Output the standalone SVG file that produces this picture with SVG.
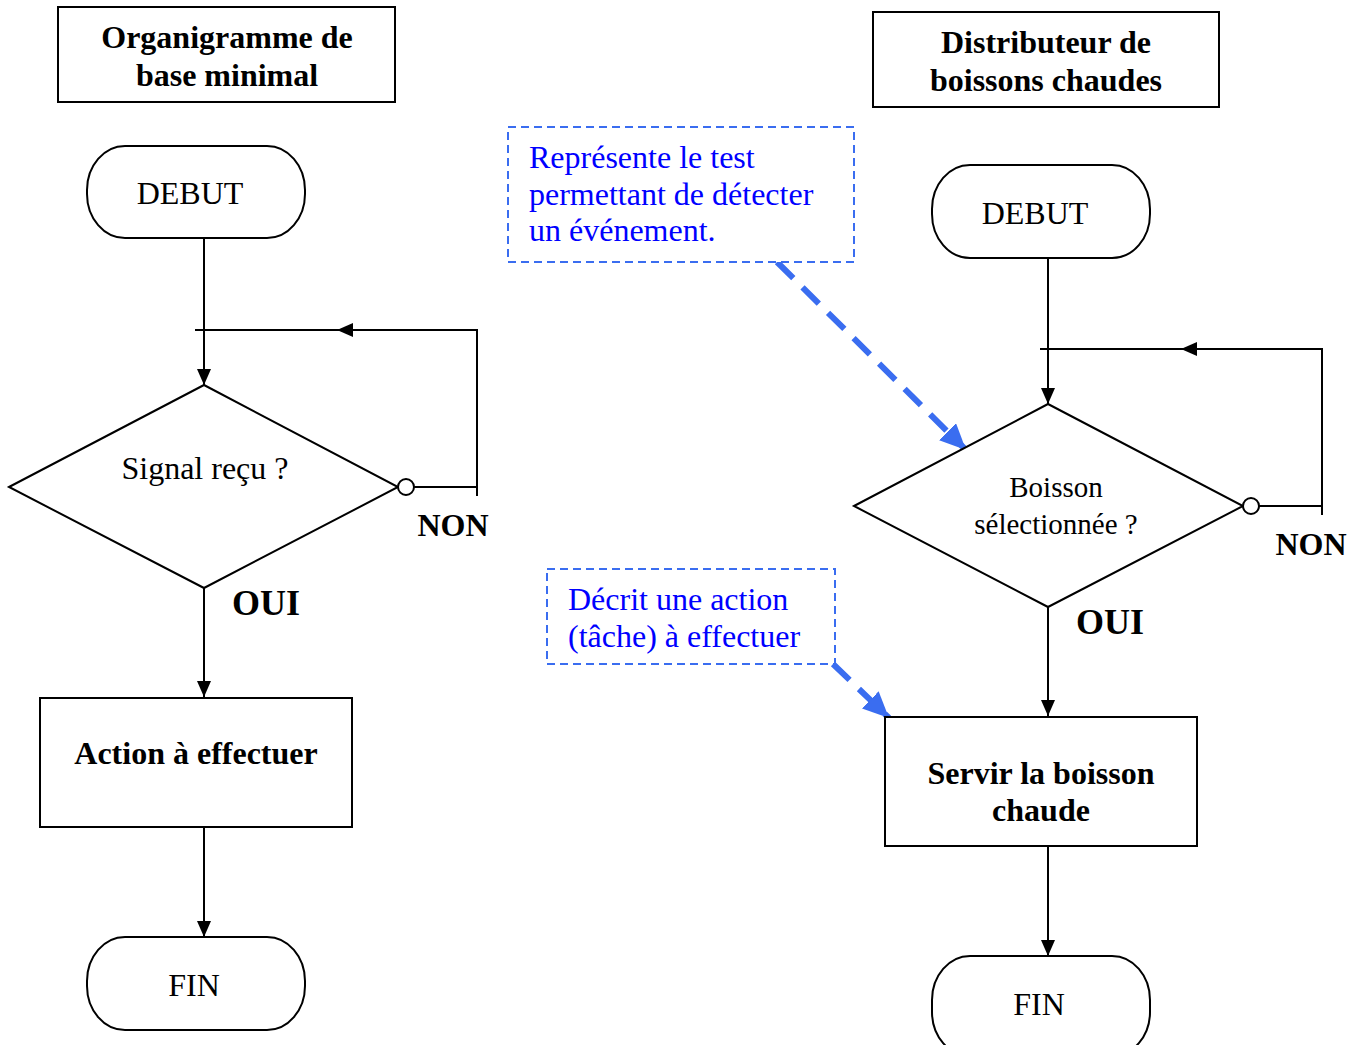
<svg xmlns="http://www.w3.org/2000/svg" width="1361" height="1045" viewBox="0 0 1361 1045">
<style>
.ln{fill:none;stroke:#000;stroke-width:2}
.sh{fill:#fff;stroke:#000;stroke-width:2}
.t{font-family:"Liberation Serif","Times New Roman",serif;font-size:32px;fill:#000;text-anchor:middle}
.b{font-weight:bold}
.bl{font-family:"Liberation Serif","Times New Roman",serif;font-size:32px;fill:#0000ff}
.db{fill:#fff;stroke:#3a6df0;stroke-width:2;stroke-dasharray:8 5}
.da{fill:none;stroke:#3a6df0;stroke-width:6;stroke-dasharray:23 13}
</style>
<defs>
<marker id="ah" markerWidth="16" markerHeight="14" refX="16" refY="7" orient="auto" markerUnits="userSpaceOnUse">
<path d="M0,0 L16,7 L0,14 Z" fill="#000"/>
</marker>
<marker id="bh" markerWidth="26" markerHeight="24" refX="26" refY="12" orient="auto" markerUnits="userSpaceOnUse">
<path d="M0,0 L26,12 L0,24 Z" fill="#3a6df0"/>
</marker>
</defs>

<g id="connectors">
<line class="ln" x1="204" y1="238" x2="204" y2="385" marker-end="url(#ah)"/>
<line class="ln" x1="195" y1="330" x2="477" y2="330"/>
<path d="M337,330 L353,323 L353,337 Z" fill="#000"/>
<line class="ln" x1="477" y1="329" x2="477" y2="496"/>
<line class="ln" x1="414" y1="487" x2="477" y2="487"/>
<line class="ln" x1="204" y1="588" x2="204" y2="697" marker-end="url(#ah)"/>
<line class="ln" x1="204" y1="827" x2="204" y2="937" marker-end="url(#ah)"/>

<line class="ln" x1="1048" y1="258" x2="1048" y2="404" marker-end="url(#ah)"/>
<line class="ln" x1="1040" y1="349" x2="1322" y2="349"/>
<path d="M1181,349 L1197,342 L1197,356 Z" fill="#000"/>
<line class="ln" x1="1322" y1="348" x2="1322" y2="515"/>
<line class="ln" x1="1259" y1="506" x2="1322" y2="506"/>
<line class="ln" x1="1048" y1="607" x2="1048" y2="716" marker-end="url(#ah)"/>
<line class="ln" x1="1048" y1="846" x2="1048" y2="956" marker-end="url(#ah)"/>

<line class="da" x1="777" y1="262" x2="966" y2="450" marker-end="url(#bh)"/>
<line class="da" x1="833" y1="664" x2="889" y2="718" marker-end="url(#bh)"/>
</g>

<g id="title-left">
<rect class="sh" x="58" y="7" width="337" height="95"/>
<text class="t b" x="227" y="48">Organigramme de</text>
<text class="t b" x="227" y="86">base minimal</text>
</g>

<g id="debut-left">
<rect class="sh" x="87" y="146" width="218" height="92" rx="38" ry="44"/>
<text class="t" x="190" y="204">DEBUT</text>
</g>

<g id="decision-left">
<polygon class="sh" points="9,487 204,385 398,487 204,588"/>
<text class="t" x="205" y="479">Signal reçu ?</text>
<circle class="sh" cx="406" cy="487" r="8"/>
</g>

<g id="label-non-left"><text class="t b" x="453" y="536">NON</text></g>
<g id="label-oui-left"><text class="t b" x="266" y="615" style="font-size:36px">OUI</text></g>

<g id="action-left">
<rect class="sh" x="40" y="698" width="312" height="129"/>
<text class="t b" x="196" y="764">Action à effectuer</text>
</g>

<g id="fin-left">
<rect class="sh" x="87" y="937" width="218" height="93" rx="38" ry="44"/>
<text class="t" x="194" y="996">FIN</text>
</g>

<g id="title-right">
<rect class="sh" x="873" y="12" width="346" height="95"/>
<text class="t b" x="1046" y="53">Distributeur de</text>
<text class="t b" x="1046" y="91">boissons chaudes</text>
</g>

<g id="debut-right">
<rect class="sh" x="932" y="165" width="218" height="93" rx="38" ry="44"/>
<text class="t" x="1035" y="224">DEBUT</text>
</g>

<g id="decision-right">
<polygon class="sh" points="854,506 1048,404 1243,506 1048,607"/>
<text class="t" x="1056" y="497" style="font-size:29px">Boisson</text>
<text class="t" x="1056" y="534" style="font-size:29px">sélectionnée ?</text>
<circle class="sh" cx="1251" cy="506" r="8"/>
</g>

<g id="label-non-right"><text class="t b" x="1311" y="555">NON</text></g>
<g id="label-oui-right"><text class="t b" x="1110" y="634" style="font-size:36px">OUI</text></g>

<g id="action-right">
<rect class="sh" x="885" y="717" width="312" height="129"/>
<text class="t b" x="1041" y="784">Servir la boisson</text>
<text class="t b" x="1041" y="821">chaude</text>
</g>

<g id="fin-right">
<rect class="sh" x="932" y="956" width="218" height="100" rx="38" ry="44"/>
<text class="t" x="1039" y="1015">FIN</text>
</g>

<g id="note-test">
<rect class="db" x="508" y="127" width="346" height="135"/>
<text class="bl" x="529" y="168">Représente le test</text>
<text class="bl" x="529" y="205">permettant de détecter</text>
<text class="bl" x="529" y="241">un événement.</text>
</g>

<g id="note-action">
<rect class="db" x="547" y="569" width="288" height="95"/>
<text class="bl" x="568" y="610">Décrit une action</text>
<text class="bl" x="568" y="647">(tâche) à effectuer</text>
</g>
</svg>
